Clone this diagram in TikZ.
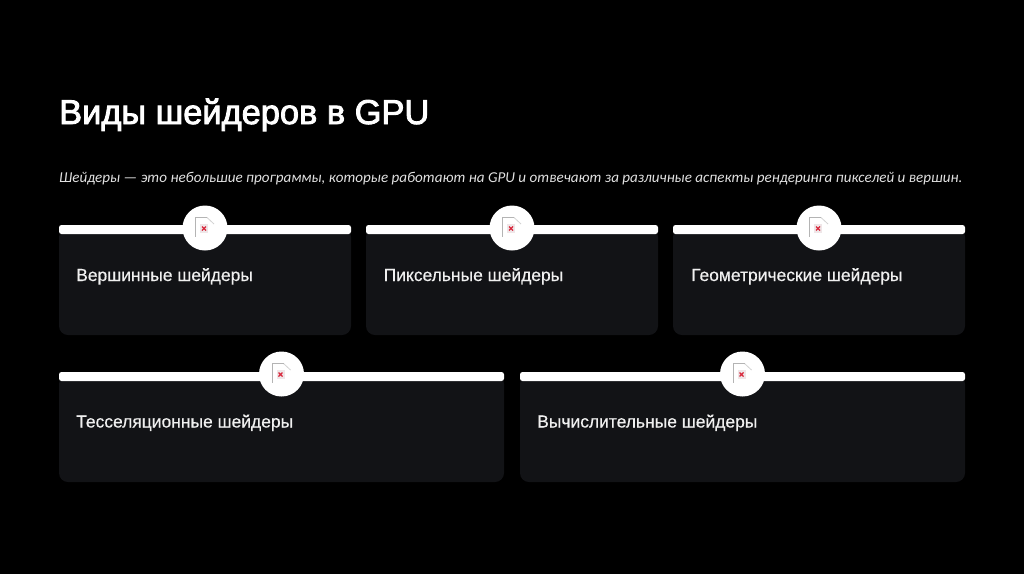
\documentclass[tikz,border=0pt]{standalone}
\usepackage{fontspec}
\setmainfont{Liberation Sans}
\newfontfamily\titlefont[FakeBold=2.5]{Liberation Sans}
\newfontfamily\cardfont[FakeBold=0.5]{Liberation Sans}
\newfontfamily\subfont{Carlito}
\definecolor{cardgray}{HTML}{121316}
\definecolor{icongray}{HTML}{B4B4B4}
\definecolor{iconred}{HTML}{D8283C}
\definecolor{iconpink}{HTML}{EFE6E8}
\begin{document}
\begin{tikzpicture}[x=1pt,y=-1pt,
  cardbox/.style={fill=cardgray,rounded corners=9pt},
  barbox/.style={fill=white,rounded corners=2.5pt},
  cardtext/.style={text=white!94!black,anchor=base west,inner sep=0pt,font=\cardfont\fontsize{17.45}{20}\selectfont},
  badge/.style={circle,fill=white,minimum size=45pt,inner sep=0pt},
  iconline/.style={icongray,line width=0.8pt}]

\fill[black] (0,0) rectangle (1024,574);
\useasboundingbox (0,0) rectangle (1024,574);

\node[text=white,anchor=base west,inner sep=0pt,font=\titlefont\fontsize{34.4}{38}\selectfont] (title) at (59,124) {Виды шейдеров в GPU};
\node[text=white!88!black,anchor=base west,inner sep=0pt,font=\subfont\itshape\fontsize{15.1}{18}\selectfont] (subtitle) at (59,182) {Шейдеры — это небольшие программы, которые работают на GPU и отвечают за различные аспекты рендеринга пикселей и вершин.};

%%%%%%%%%%%%% top row
\fill[cardbox] (59,228) rectangle (351,335);\fill[barbox] (59,225) rectangle (351,234);
\node[badge] (badgeA) at (205,228) {};
\node[cardtext] (textA) at (76,281) {Вершинные шейдеры};

\fill[cardbox] (366,228) rectangle (658,335);\fill[barbox] (366,225) rectangle (658,234);
\node[badge] (badgeB) at (512,228) {};
\node[cardtext] (textB) at (383.5,281) {Пиксельные шейдеры};

\fill[cardbox] (673,228) rectangle (965,335);\fill[barbox] (673,225) rectangle (965,234);
\node[badge] (badgeC) at (819,228) {};
\node[cardtext] (textC) at (691,281) {Геометрические шейдеры};
%%%%%%%%%%%%% bottom row
\fill[cardbox] (59,375) rectangle (504,482);\fill[barbox] (59,372) rectangle (504,381);
\node[badge] (badgeD) at (281.5,374) {};
\node[cardtext] (textD) at (76,427.5) {Тесселяционные шейдеры};

\fill[cardbox] (520,375) rectangle (965,482);\fill[barbox] (520,372) rectangle (965,381);
\node[badge] (badgeE) at (742.5,374) {};
\node[cardtext] (textE) at (537,427.5) {Вычислительные шейдеры};
%%%%%%%%%%%%% broken image icons
\foreach \cx/\cy in {205/228,512/228,819/228,281.5/374,742.5/374}{
\draw[iconline] (\cx-9.3,\cy+8.5) -- (\cx-9.3,\cy-10.5) -- (\cx+2,\cy-10.5);
\draw[iconline,opacity=0.6] (\cx+2,\cy-10.5) -- (\cx+9,\cy-4);
\fill[iconpink] (\cx-5,\cy-4) rectangle (\cx+3,\cy+5);
\draw[iconred,line width=1.1pt] (\cx-3,\cy-1.5) -- (\cx+1,\cy+2.5) (\cx-3,\cy+2.5) -- (\cx+1,\cy-1.5);
}

\end{tikzpicture}
\end{document}
